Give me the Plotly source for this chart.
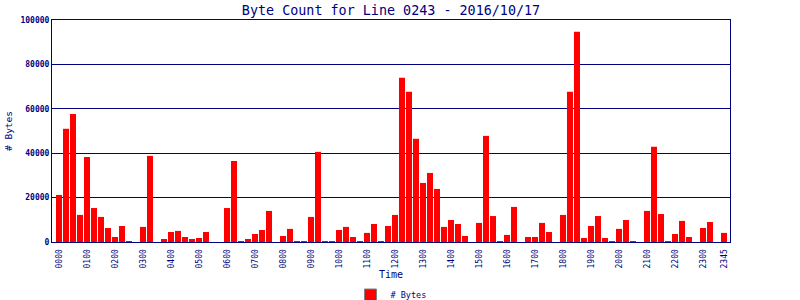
import plotly.graph_objects as go

times = [f"{h:02d}{m:02d}" for h in range(24) for m in (0, 15, 30, 45)]
bytes_count = [
    21200, 51000, 57700, 12200, 38300, 15300, 11300, 6300,
    2250, 7200, 450, 0, 6800, 38800, 0, 1350,
    4500, 5000, 2250, 1350, 1800, 4500, 0, 0,
    15300, 36500, 450, 1350, 3600, 5400, 14000, 0,
    2700, 5900, 450, 450, 11300, 40600, 450, 450,
    5400, 6800, 2250, 450, 4100, 8100, 450, 7200,
    12200, 74000, 67700, 46500, 26600, 31100, 23900, 6800,
    9900, 8100, 2700, 0, 8600, 47800, 11700, 450,
    3200, 15800, 0, 2250, 2250, 8600, 4500, 0,
    12200, 67700, 94700, 1800, 7200, 11700, 1800, 450,
    5900, 9900, 450, 0, 14000, 42900, 12600, 450,
    3600, 9500, 2250, 0, 6300, 9000, 0, 4100,
]
tick_labels = [f"{h:02d}00" for h in range(24)] + ["2345"]
tick_idx = [times.index(t) for t in tick_labels]
y_ticks = [0, 20000, 40000, 60000, 80000, 100000]

NAVY = "#000080"
MONO = "DejaVu Sans Mono"

fig = go.Figure()
fig.add_trace(go.Bar(
    x=list(range(len(times))), y=bytes_count,
    marker=dict(color="#FF0000", line=dict(width=0)),
    showlegend=False, name="# Bytes",
))
fig.add_trace(go.Bar(
    x=[None], y=[None], name="# Bytes",
    marker=dict(color="#FF0000", line=dict(color="#808080", width=1)),
    showlegend=True,
))

fig.update_layout(
    width=800, height=300,
    margin=dict(l=52, r=70, t=20, b=58, autoexpand=False),
    paper_bgcolor="white", plot_bgcolor="white",
    bargap=0.14,
    title=dict(text="Byte Count for Line 0243 - 2016/10/17",
               font=dict(family=MONO, size=13.4, color=NAVY),
               x=391 / 800, xanchor="center", y=0.965, yanchor="middle"),
    font=dict(family=MONO, color=NAVY),
    legend=dict(orientation="h", x=0.5, xanchor="center",
                yref="container", y=5 / 300, yanchor="middle",
                font=dict(family=MONO, size=8.5, color=NAVY), itemwidth=30,
                bgcolor="rgba(0,0,0,0)"),
    xaxis=dict(
        range=[-1, 95.86], tickmode="array", tickvals=tick_idx, ticktext=tick_labels,
        tickangle=-90, tickfont=dict(family=MONO, size=8, color=NAVY),
        showgrid=False, zeroline=False, showline=True, mirror=True,
        linecolor=NAVY, linewidth=1, ticks="outside", ticklen=3, tickcolor="rgba(0,0,0,0)",
        automargin=False,
        title=dict(text="Time", font=dict(family=MONO, size=10, color=NAVY), standoff=8),
    ),
    yaxis=dict(
        range=[0, 100000], tickmode="array", tickvals=y_ticks,
        ticktext=[str(v) for v in y_ticks],
        tickfont=dict(family=MONO, size=8, color=NAVY, weight="bold"),
        showgrid=True, gridcolor=NAVY, gridwidth=1, zeroline=False,
        showline=True, mirror=True, linecolor=NAVY, linewidth=1, ticks="",
        automargin=False,
        title=dict(text="# Bytes", font=dict(family=MONO, size=9.5, color=NAVY), standoff=6),
    ),
)

fig.write_html("out.html")
